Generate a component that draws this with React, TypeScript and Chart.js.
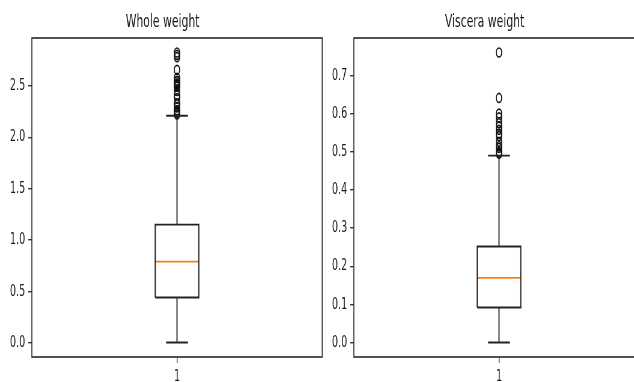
import React, { useEffect, useRef } from 'react';
import { Chart, registerables } from 'chart.js';

Chart.register(...registerables);

const categories = ['1'];
const panelTitles = ['Whole weight', 'Viscera weight'];
// [lower whisker, Q1, median, Q3, upper whisker]
const wholeBox = [0.002, 0.44, 0.79, 1.15, 2.21];
const visceraBox = [0.0005, 0.092, 0.17, 0.252, 0.49];
const wholeOutliers = [
  2.2225, 2.2385, 2.2545, 2.2635, 2.2905, 2.3235, 2.3305, 2.381, 2.41, 2.4515,
  2.4925, 2.499, 2.5085, 2.5155, 2.526, 2.5475, 2.55, 2.5785, 2.657, 2.7795,
  2.8025, 2.8255,
];
const visceraOutliers = [
  0.495, 0.4975, 0.5, 0.51, 0.5145, 0.526, 0.541, 0.5475, 0.5575, 0.5655,
  0.575, 0.59, 0.6, 0.641, 0.76,
];
const wholeTicks = [0, 0.5, 1.0, 1.5, 2.0, 2.5];
const visceraTicks = [0, 0.1, 0.2, 0.3, 0.4, 0.5, 0.6, 0.7];

const S = 0.6; // horizontal squish of the original picture
const Y_AXIS_W = 48;
const AREA_W = 290 / S;
const CANVAS_W = Math.round(Y_AXIS_W * 2 + AREA_W);
const CANVAS_H = 400;
const FONT = "'DejaVu Sans', 'Liberation Sans', sans-serif";

const framePlugin = {
  id: 'frame',
  afterDraw(chart: any) {
    const { ctx, chartArea } = chart;
    const { left, top, right, bottom } = chartArea;
    ctx.save();
    ctx.strokeStyle = '#333';
    ctx.lineWidth = 1.7;
    ctx.strokeRect(left, top, right - left, bottom - top);
    ctx.restore();
  },
};

function seg(x1: number, y1: number, x2: number, y2: number) {
  return [{ x: x1, y: y1 }, { x: x2, y: y2 }];
}

function Panel(props: { title: string; box: number[]; outliers: number[]; ticks: number[]; axesLeft: number }) {
  const ref = useRef<HTMLCanvasElement>(null);
  useEffect(() => {
    const { box, outliers, ticks, title } = props;
    const [lo, q1, med, q3, hi] = box;
    const pos = 1;
    const hw = 0.075;
    const cw = 0.0375;
    const dataMin = Math.min(lo, ...outliers);
    const dataMax = Math.max(hi, ...outliers);
    const pad = (dataMax - dataMin) * 0.05;
    const line = (data: any[], color = '#222', w = 1.9) => ({
      data,
      showLine: true,
      borderColor: color,
      borderWidth: w,
      pointRadius: 0,
      fill: false,
    });
    const chart = new Chart(ref.current!, {
      type: 'scatter',
      data: {
        datasets: [
          line([
            { x: pos - hw, y: q1 },
            { x: pos + hw, y: q1 },
            { x: pos + hw, y: q3 },
            { x: pos - hw, y: q3 },
            { x: pos - hw, y: q1 },
          ]),
          line(seg(pos, q3, pos, hi)),
          line(seg(pos, q1, pos, lo)),
          line(seg(pos - cw, hi, pos + cw, hi)),
          line(seg(pos - cw, lo, pos + cw, lo)),
          line(seg(pos - hw, med, pos + hw, med), '#ff7f0e', 1.7),
          {
            data: outliers.map((v) => ({ x: pos, y: v })),
            showLine: false,
            pointStyle: 'circle',
            pointRadius: 4.5,
            pointBorderWidth: 1.7,
            borderColor: '#111',
            pointBorderColor: '#111',
            pointBackgroundColor: 'rgba(0,0,0,0)',
            backgroundColor: 'rgba(0,0,0,0)',
          } as any,
        ],
      },
      options: {
        animation: false,
        responsive: false,
        devicePixelRatio: 1,
        layout: { padding: { left: 0, right: Y_AXIS_W, top: 0, bottom: 0 } },
        plugins: {
          legend: { display: false },
          tooltip: { enabled: false },
          title: {
            display: true,
            text: title,
            color: '#1a1a1a',
            font: { family: FONT, size: 18, weight: 'normal' },
            padding: { top: 12, bottom: 4.4 },
          },
        },
        scales: {
          x: {
            type: 'linear',
            min: 0.5,
            max: 1.5,
            afterBuildTicks: (scale: any) => {
              scale.ticks = categories.map((c, i) => ({ value: i + 1, label: c }));
            },
            afterFit: (scale: any) => {
              scale.height = CANVAS_H - 357;
            },
            ticks: {
              color: '#1a1a1a',
              font: { family: FONT, size: 16 },
              padding: 4,
              maxRotation: 0,
              callback: (v: any) => categories[Number(v) - 1] ?? '',
            },
            grid: {
              display: true,
              drawOnChartArea: false,
              drawTicks: true,
              tickLength: 6,
              color: '#333',
              lineWidth: 1.4,
            },
            border: { display: false },
          },
          y: {
            type: 'linear',
            min: dataMin - pad,
            max: dataMax + pad,
            afterBuildTicks: (scale: any) => {
              scale.ticks = ticks.map((v) => ({ value: v }));
            },
            afterFit: (scale: any) => {
              scale.width = Y_AXIS_W;
            },
            ticks: {
              color: '#1a1a1a',
              font: { family: FONT, size: 16 },
              padding: 5,
              callback: (v: any) => Number(v).toFixed(1),
            },
            grid: {
              display: true,
              drawOnChartArea: false,
              drawTicks: true,
              tickLength: 6,
              color: '#333',
              lineWidth: 1.4,
            },
            border: { display: false },
          },
        },
      } as any,
      plugins: [framePlugin],
    });
    return () => chart.destroy();
  }, []);
  const displayLeft = props.axesLeft - Y_AXIS_W * S;
  return (
    <canvas
      ref={ref}
      width={CANVAS_W}
      height={CANVAS_H}
      style={{
        position: 'absolute',
        left: displayLeft + 'px',
        top: '0px',
        width: CANVAS_W * S + 'px',
        height: CANVAS_H + 'px',
      }}
    />
  );
}

export default function App() {
  return (
    <div
      style={{
        position: 'fixed',
        left: 0,
        top: 0,
        width: '634px',
        height: '382px',
        overflow: 'hidden',
        background: '#fff',
      }}
    >
      <Panel title={panelTitles[0]} box={wholeBox} outliers={wholeOutliers} ticks={wholeTicks} axesLeft={32} />
      <Panel title={panelTitles[1]} box={visceraBox} outliers={visceraOutliers} ticks={visceraTicks} axesLeft={354} />
    </div>
  );
}
